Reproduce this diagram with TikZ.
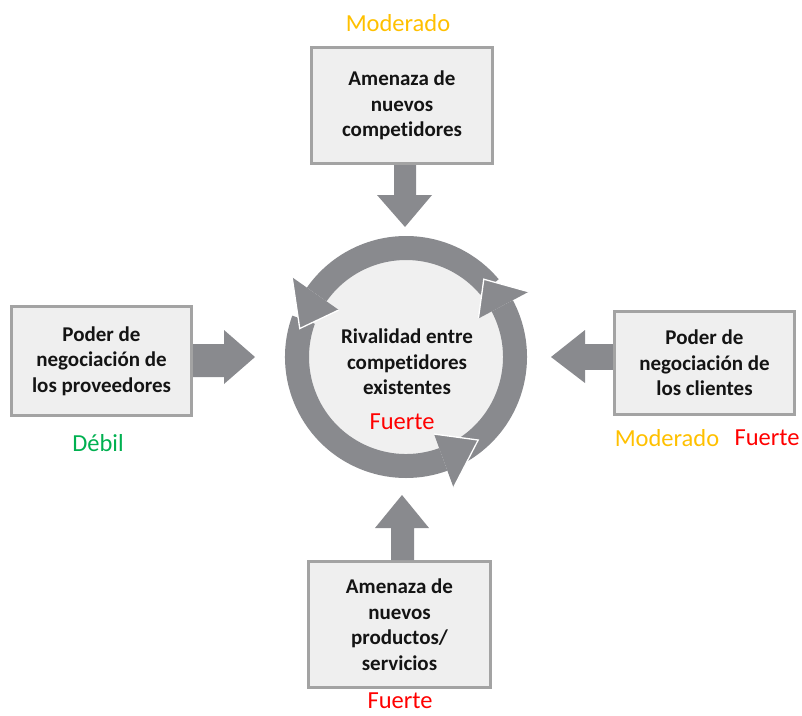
\documentclass[tikz,border=0pt]{standalone}
\usepackage{fontspec}
\setmainfont{Carlito}[Ligatures=NoCommon]
\usetikzlibrary{calc}
\definecolor{arrgray}{RGB}{137,138,142}
\definecolor{boxfill}{RGB}{239,239,239}
\definecolor{boxline}{RGB}{163,163,163}
\definecolor{diskfill}{RGB}{240,240,240}
\definecolor{orng}{RGB}{255,192,0}
\definecolor{grn}{RGB}{0,176,80}
\definecolor{rd}{RGB}{255,0,0}
\definecolor{txt}{RGB}{20,20,20}
\begin{document}
\begin{tikzpicture}[x=1pt,y=-1pt,
  forcebox/.style={draw=boxline, line width=3pt, fill=boxfill, inner sep=0pt, align=center,
    text=txt, font=\fontsize{21}{25.5}\selectfont\bfseries},
  lbl/.style={inner sep=0pt, font=\fontsize{24.5}{29}\selectfont},
  blk/.style={fill=arrgray},
  ringarrow/.style={fill=arrgray},
  headedge/.style={draw=white, line width=1.3pt, line join=miter}]
\useasboundingbox (0,0) rectangle (802,715);

% boxes
\node[forcebox, minimum width=181pt, minimum height=116pt] (topbox) at (402,105.5)
  {Amenaza de\\nuevos\\competidores};
\node[forcebox, minimum width=180pt, minimum height=109pt] (leftbox) at (101.5,361)
  {Poder de\\negociación de\\los proveedores};
\node[forcebox, minimum width=180pt, minimum height=103pt] (rightbox) at (704.5,363)
  {Poder de\\negociación de\\los clientes};
\node[forcebox, minimum width=182pt, minimum height=126pt] (botbox) at (399.5,624.5)
  {Amenaza de\\nuevos\\productos/\\servicios};

% labels
\node[lbl, text=orng] (ltop) at (398,23) {Moderado};
\node[lbl, text=grn] (lleft) at (98,443) {Débil};
\node[lbl, text=orng] (lright1) at (667,438) {Moderado};
\node[lbl, text=rd] (lright2) at (767,438) {Fuerte};
\node[lbl, text=rd] (lbot) at (400,701) {Fuerte};

% central disk
\node[circle, fill=diskfill, minimum size=210pt, inner sep=0pt] (core) at (406,357) {};
\node[align=center, text=txt, font=\fontsize{21}{25.5}\selectfont\bfseries] (rival) at (407,362)
  {Rivalidad entre\\competidores\\existentes};
\node[lbl, text=rd] (lcore) at (402,422) {Fuerte};

% circular arrows
\begin{scope}[shift={(core.center)}, x=1pt, y=1pt]
  \foreach \t/\b in {40/145, 160/290, 300/388}
    \fill[ringarrow] (\t:121) arc[start angle=\t, end angle=\b, radius=121]
      -- (\b:97) arc[start angle=\b, end angle=\t, radius=97] -- cycle;
  \foreach \b/\p in {145/165, 290/311, 388/405} {
    \fill[ringarrow] (\b:139) -- (\p:110) -- (\b:82) -- cycle;
    \draw[headedge] (\b:139) -- (\p:110) -- (\b:82);
  }
\end{scope}

% block arrows
\coordinate (ttip) at (405,227);
\fill[blk] (394,0 |- topbox.south) -- (394,195) -- (377,195) -- (ttip)
  -- (432,195) -- (416,195) -- (416,0 |- topbox.south) -- cycle;

\coordinate (btip) at (402,495);
\fill[blk] (391,0 |- botbox.north) -- (391,528) -- (375,528) -- (btip)
  -- (429,528) -- (414,528) -- (414,0 |- botbox.north) -- cycle;

\coordinate (ltip) at (255,357);
\fill[blk] (leftbox.east |- 0,344) -- (224,344) -- (224,330) -- (ltip)
  -- (224,384) -- (224,377) -- (leftbox.east |- 0,377) -- cycle;

\coordinate (rtip) at (551,357);
\fill[blk] (rightbox.west |- 0,344) -- (585,344) -- (585,370) -- (rightbox.west |- 0,370) -- cycle;
\fill[blk] (585,330) -- (rtip) -- (585,383) -- cycle;
\end{tikzpicture}
\end{document}
